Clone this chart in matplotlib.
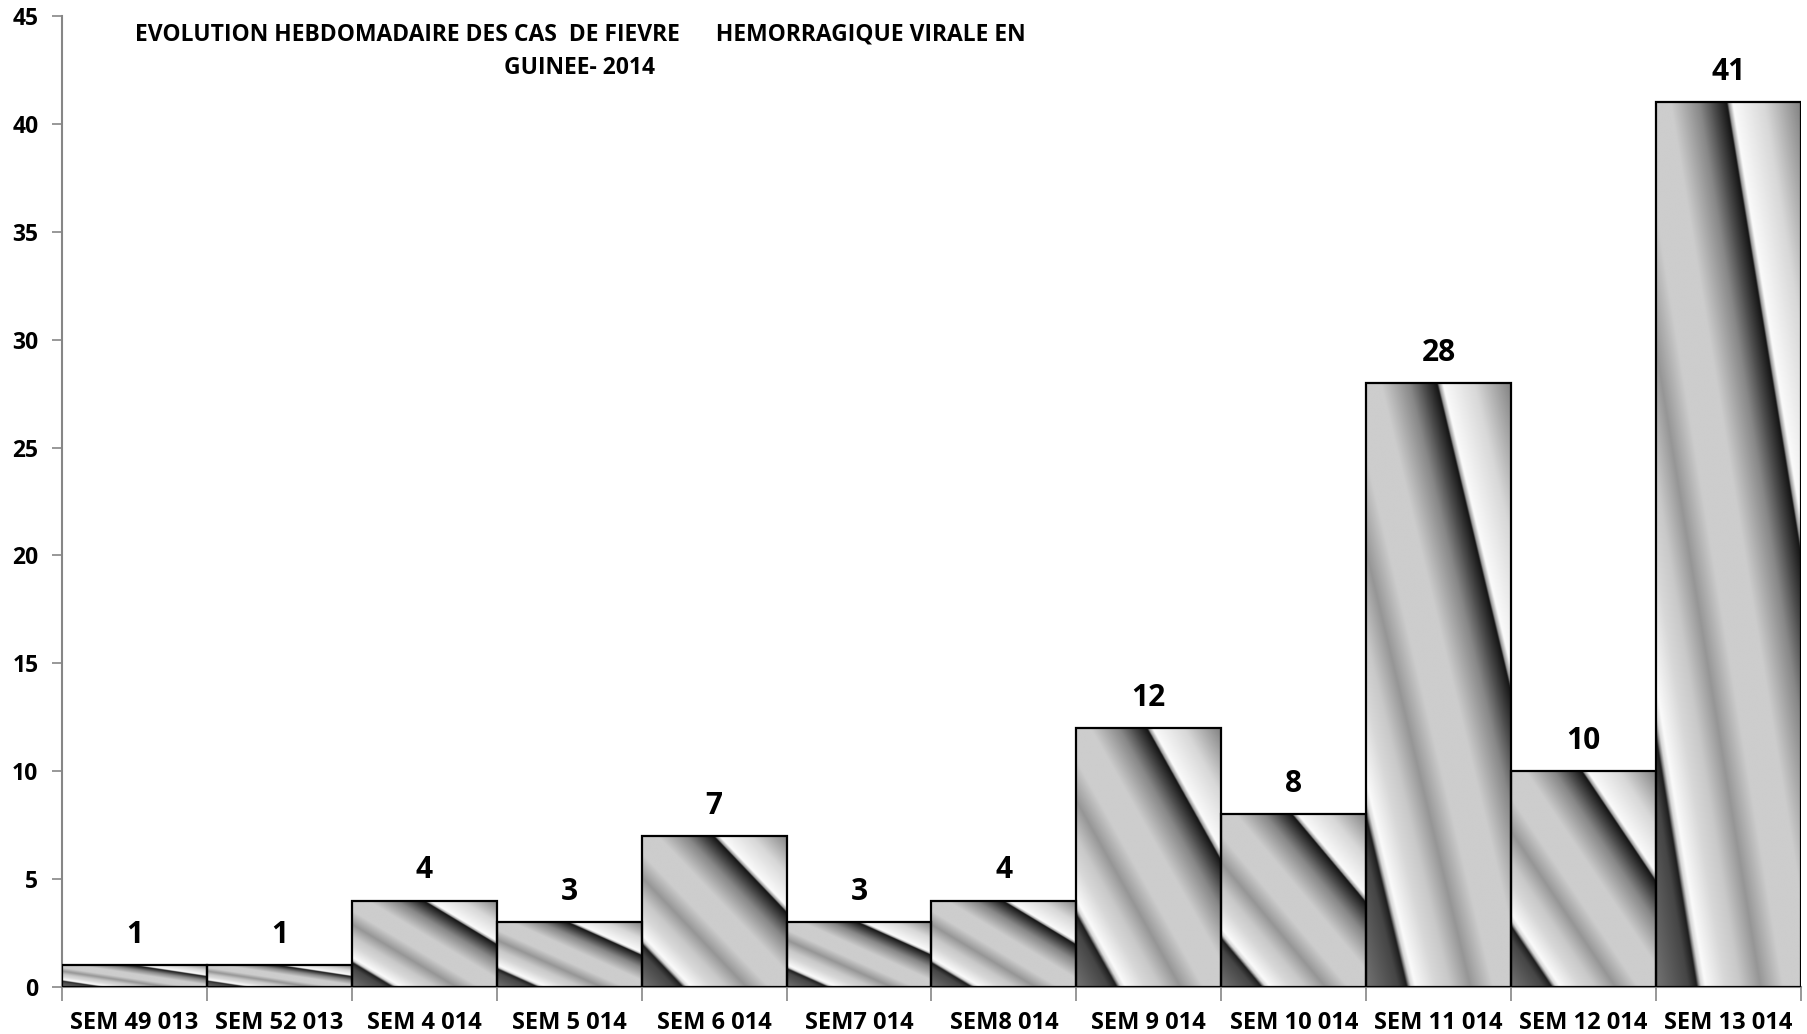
import numpy as np
import matplotlib
matplotlib.use("Agg")
import matplotlib.pyplot as plt
from matplotlib.patches import Rectangle

categories = ["SEM 49 013", "SEM 52 013", "SEM 4 014", "SEM 5 014", "SEM 6 014",
              "SEM7 014", "SEM8 014", "SEM 9 014", "SEM 10 014", "SEM 11 014",
              "SEM 12 014", "SEM 13 014"]
cases = [1, 1, 4, 3, 7, 3, 4, 12, 8, 28, 10, 41]
yticks = [0, 5, 10, 15, 20, 25, 30, 35, 40, 45]
title_lines = ["EVOLUTION HEBDOMADAIRE DES CAS  DE FIEVRE      HEMORRAGIQUE VIRALE EN",
               "GUINEE- 2014"]

plt.rcParams['font.family'] = ['Open Sans', 'DejaVu Sans']
plt.rcParams['font.weight'] = 'bold'

fig = plt.figure(figsize=(18.08, 10.34), dpi=100)
ax = fig.add_axes([62/1808, 47/1034, (1801-62)/1808, (987-16)/1034])

# metallic gradient profile along t = x + y in bar unit coordinates
ts = [0.00, 0.22, 0.28, 0.295, 0.31, 0.34, 0.48, 0.58, 0.72, 0.88, 1.10, 1.30, 1.44, 1.49, 1.50, 1.53, 1.75, 2.00]
gs = [115, 70, 30, 140, 215, 250, 215, 200, 150, 205, 205, 135, 50, 20, 150, 250, 215, 130]
N = 300
xx, yy = np.meshgrid(np.linspace(0, 1, N), np.linspace(0, 1, N))
img = np.interp(xx + yy, ts, gs) / 255.0

x = np.arange(len(categories))
bars = ax.bar(x, cases, width=1.0, facecolor='none', edgecolor='black',
              linewidth=1.6, zorder=3)
for b in bars:
    x0, y0 = b.get_x(), b.get_y()
    w, h = b.get_width(), b.get_height()
    clip = Rectangle((x0, y0), w, h, transform=ax.transData)
    im = ax.imshow(img, cmap='gray', vmin=0, vmax=1, origin='lower',
                   extent=(x0, x0 + w, y0, y0 + h), aspect='auto',
                   interpolation='bilinear', zorder=2)
    im.set_clip_path(clip)

for xi, v in zip(x, cases):
    ax.annotate(str(v), (xi, v), xytext=(0, 11), textcoords='offset points',
                ha='center', va='bottom', fontsize=21.5, fontweight='bold')

ax.set_xlim(-0.5, len(categories) - 0.5)
ax.set_ylim(0, 45)
ax.set_yticks(yticks)
ax.set_yticklabels([str(t) for t in yticks])
ax.set_xticks(np.arange(len(categories) + 1) - 0.5)
ax.set_xticklabels([])
ax.set_xticks(x, minor=True)
ax.set_xticklabels(categories, minor=True)

for s in ['top', 'right']:
    ax.spines[s].set_visible(False)
for s in ['left', 'bottom']:
    ax.spines[s].set_color('#868686')
    ax.spines[s].set_linewidth(1.5)
    ax.spines[s].set_zorder(1)

ax.tick_params(axis='y', which='major', direction='out', length=7, width=1.2,
               color='#868686', labelsize=16.5, pad=10)
ax.tick_params(axis='x', which='major', direction='out', length=10, width=1.2,
               color='#868686')
ax.tick_params(axis='x', which='minor', length=0, labelsize=17, pad=17.5)
for lab in ax.get_yticklabels() + ax.get_xticklabels(minor=True):
    lab.set_fontweight('bold')

for line, yc in zip(title_lines, [34, 68]):
    fig.text(580/1808, 1 - yc/1034, line, ha='center', va='center',
             fontsize=16.5, fontweight='bold')

fig.savefig("out.png", dpi=100)
